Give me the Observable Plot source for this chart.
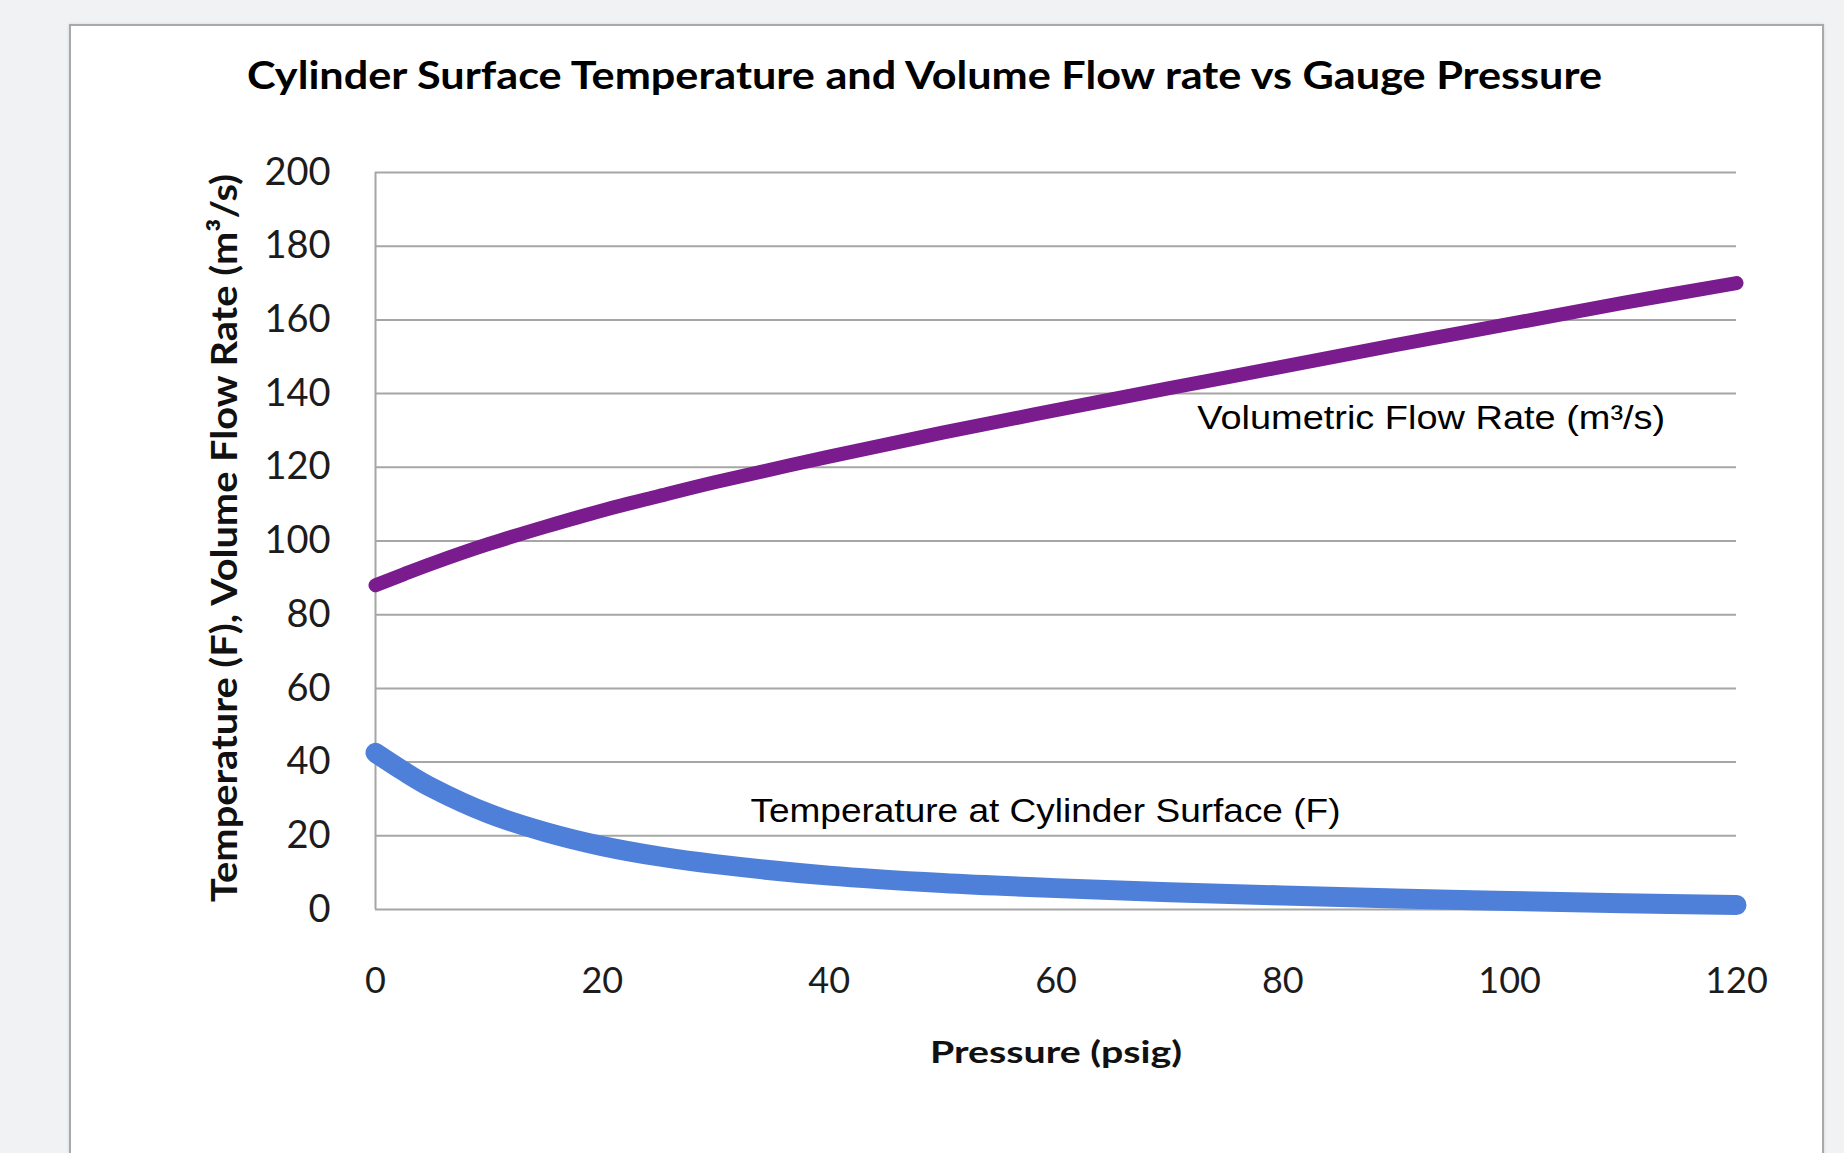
<!DOCTYPE html>
<html>
<head>
<meta charset="utf-8">
<script src="https://cdn.jsdelivr.net/npm/d3@7"></script>
<script src="https://cdn.jsdelivr.net/npm/@observablehq/plot@0.6"></script>
<style>
  html, body { margin: 0; padding: 0; background: #f1f2f4; }
  #page { position: relative; width: 1844px; height: 1153px; overflow: hidden; background: #f1f2f4; }
  #card { position: absolute; left: 69px; top: 24px; width: 1755px; height: 1200px; box-sizing: border-box;
          background: #ffffff; border: 2px solid #a9a9a9; box-shadow: 0 0 3px rgba(0,0,0,0.12); }
  #title { position: absolute; left: 247px; top: 56px; font-family: Lato, sans-serif; font-weight: bold;
           font-size: 37.5px; line-height: 37.5px; white-space: nowrap; color: #000; transform-origin: 0 0; }
  #chart { position: absolute; left: 0; top: 120px; }
</style>
</head>
<body>
<div id="page">
  <div id="card"></div>
  <div id="title">Cylinder Surface Temperature and Volume Flow rate vs Gauge Pressure</div>
  <div id="chart"></div>
</div>
<script>
// ---- data ----
const pressure    = [0, 2.5, 5, 10, 15, 20, 25, 30, 40, 50, 60, 70, 80, 90, 100, 110, 120];
const temperature = [42.5, 37.5, 33, 26, 21, 17.2, 14.4, 12.3, 9.2, 7.2, 5.8, 4.7, 3.8, 3.0, 2.3, 1.7, 1.2];
const flowRate    = [88, 91, 93.9, 99.2, 103.9, 108.3, 112.2, 116, 122.9, 129.4, 135.5, 141.5, 147.3, 153.2, 158.9, 164.6, 170];

const xTicks = [0, 20, 40, 60, 80, 100, 120];
const yTicks = [0, 20, 40, 60, 80, 100, 120, 140, 160, 180, 200];

const annText = ["Volumetric Flow Rate (m³/s)", "Temperature at Cylinder Surface (F)"];
const annX = [72.45, 33.06];
const annY = [133.2, 26.6];

const xLabel = "Pressure (psig)";
const yLabel = "Temperature (F), Volume Flow Rate (m³/s)";

const table = pressure.map((p, i) => ({pressure: p, temperature: temperature[i], flow: flowRate[i]}));

const gridColor = "#a6a6a6";

const chart = Plot.plot({
  width: 1844,
  height: 1033,
  marginLeft: 375,
  marginRight: 108,
  marginTop: 52,
  marginBottom: 244,
  style: {background: "transparent", fontFamily: "Lato, sans-serif", color: "#1c1c1c", overflow: "visible"},
  x: {domain: [0, 120]},
  y: {domain: [0, 200]},
  marks: [
    Plot.ruleY(yTicks, {stroke: gridColor, strokeWidth: 2}),
    Plot.ruleX([0], {stroke: gridColor, strokeWidth: 2}),
    Plot.axisY({ticks: yTicks, tickSize: 0, tickPadding: 45, fontSize: 38, label: null}),
    Plot.axisX({ticks: xTicks, tickSize: 0, tickPadding: 58, fontSize: 36, label: null}),
    Plot.line(table, {x: "pressure", y: "temperature", stroke: "#4f80d9", strokeWidth: 20,
                      curve: "catmull-rom", strokeLinecap: "round", strokeLinejoin: "round"}),
    Plot.line(table, {x: "pressure", y: "flow", stroke: "#7a1b8e", strokeWidth: 14,
                      curve: "catmull-rom", strokeLinecap: "round", strokeLinejoin: "round"}),
    Plot.text(annText, {x: annX, y: annY, text: d => d, textAnchor: "start",
                        fontFamily: "'Liberation Sans', Arial, sans-serif", fontSize: 33, fill: "#000"}),
    Plot.text([yLabel], {text: d => d, frameAnchor: "left", textAnchor: "middle", rotate: -90, dx: -150, dy: -3,
                         fontSize: 37, fontWeight: "bold", fill: "#111"}),
    Plot.text([xLabel], {text: d => d, frameAnchor: "bottom", textAnchor: "middle", dy: 153,
                         fontSize: 31, fontWeight: "bold", fill: "#111"})
  ]
});
document.getElementById("chart").appendChild(chart);

// fit text lengths to the reference
const targetLen = new Map([
  [annText[0], 468],
  [annText[1], 590],
  [yLabel, 728],
  [xLabel, 252]
]);
chart.querySelectorAll("text").forEach(t => {
  const L = targetLen.get(t.textContent);
  if (L) { t.setAttribute("textLength", L); t.setAttribute("lengthAdjust", "spacingAndGlyphs"); }
});

function fitTitle() {
  const el = document.getElementById("title");
  el.style.transform = "none";
  const w = el.getBoundingClientRect().width;
  if (w > 0) el.style.transform = `scaleX(${1355 / w})`;
}
fitTitle();
if (document.fonts && document.fonts.ready) document.fonts.ready.then(fitTitle);
</script>
</body>
</html>
